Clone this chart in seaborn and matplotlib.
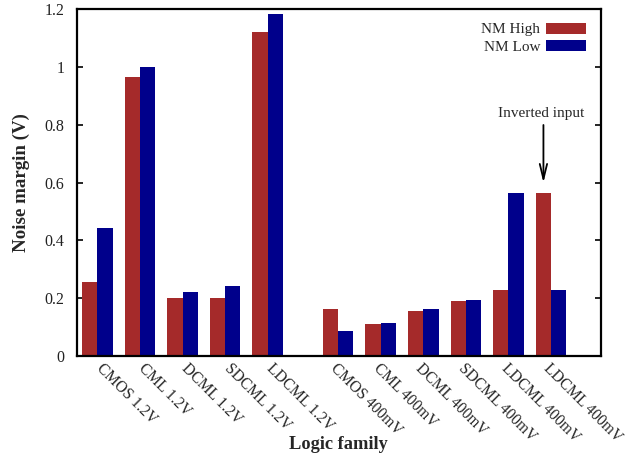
import matplotlib
matplotlib.use("Agg")
import matplotlib.pyplot as plt
import matplotlib.transforms as mtransforms
import numpy as np
import pandas as pd
import seaborn as sns

# Logic families, grouped by supply voltage
families_12v = ["CMOS 1.2V", "CML 1.2V", "DCML 1.2V", "SDCML 1.2V", "LDCML 1.2V"]
families_400mv = ["CMOS 400mV", "CML 400mV", "DCML 400mV", "SDCML 400mV",
                  "LDCML 400mV", "LDCML 400mV"]

# Noise margins (V)
nm_high = [0.257, 0.965, 0.202, 0.202, 1.123,
           0.162, 0.110, 0.157, 0.190, 0.229, 0.566]
nm_low = [0.443, 1.002, 0.223, 0.243, 1.183,
          0.086, 0.113, 0.163, 0.193, 0.566, 0.229]

series_names = ["NM High", "NM Low"]
series_colors = ["#A52A2A", "#00008B"]
ytick_labels = ["0", "0.2", "0.4", "0.6", "0.8", "1", "1.2"]
annotation_text = "Inverted input"

# Group slots: the second voltage group sits after a wider gap
group_gap = 0.65
n1, n2 = len(families_12v), len(families_400mv)
labels = families_12v + families_400mv
slots = [float(i) for i in range(n1)] + [n1 + group_gap + i for i in range(n2)]
slots = [round(s, 3) for s in slots]
# second group's labels sit a little left of its bar pairs
label_pos = slots[:n1] + [s - 0.15 for s in slots[n1:]]

df = pd.DataFrame({
    "slot": slots * 2,
    "value": nm_high + nm_low,
    "series": [series_names[0]] * len(slots) + [series_names[1]] * len(slots),
})

sns.set_theme(style="ticks")
plt.rcParams["font.family"] = ["Liberation Serif", "DejaVu Serif"]

fig = plt.figure(figsize=(6.33, 4.58), dpi=100)
ax = fig.add_axes([0.1212, 0.2227, 0.8275, 0.7566])

sns.barplot(data=df, x="slot", y="value", hue="series", hue_order=series_names,
            palette=series_colors, native_scale=True, width=0.72,
            saturation=1, linewidth=0, ax=ax, errorbar=None)

ax.set_xlim(-0.484, 11.81)
ax.set_ylim(0, 1.2)

yt = np.arange(0, 1.21, 0.2)
ax.set_yticks(yt)
ax.set_yticklabels(ytick_labels, fontsize=11.5)
ax.tick_params(axis="y", which="both", direction="in", length=4, width=1.2,
               right=True, left=True, pad=9, colors="black", labelcolor="#222222")

ax.set_xticks(label_pos)
ax.set_xticklabels(labels, rotation=-45, ha="left", va="top",
                   rotation_mode="anchor", fontsize=11.2)
ax.tick_params(axis="x", length=0, pad=3)
shift = mtransforms.ScaledTranslation(5 / 72, 0, fig.dpi_scale_trans)
for lbl in ax.get_xticklabels():
    lbl.set_transform(lbl.get_transform() + shift)

for side in ["left", "right", "top", "bottom"]:
    ax.spines[side].set_visible(True)
    ax.spines[side].set_linewidth(1.6)
    ax.spines[side].set_color("black")

ax.set_ylabel("Noise margin (V)", fontsize=13.6, fontweight="bold", labelpad=10)
ax.set_xlabel("Logic family", fontsize=13.2, fontweight="bold", va="center")
ax.xaxis.set_label_coords(0.5, -0.254)

# Legend with swatches to the right of the text
handles, hl = ax.get_legend_handles_labels()
ax.get_legend().remove()
ax.legend(handles, hl, loc="upper right", bbox_to_anchor=(0.972, 0.962),
          frameon=False, markerfirst=False, fontsize=11, borderaxespad=0,
          borderpad=0, handlelength=2.6, handleheight=0.72,
          handletextpad=0.4, labelspacing=0.22)

# Arrow pointing at the inverted-input LDCML bar
bar_w = 0.72 / 2
x_inv = slots[-1] - bar_w / 2
ax.annotate("", xy=(x_inv, 0.600), xytext=(x_inv, 0.800),
            arrowprops=dict(arrowstyle="->,head_length=0.9,head_width=0.22",
                            color="black", lw=1.3, shrinkA=0, shrinkB=0))
ax.text(x_inv - 0.05, 0.818, annotation_text, ha="center", va="bottom",
        fontsize=11)

fig.savefig("out.png", dpi=100)
